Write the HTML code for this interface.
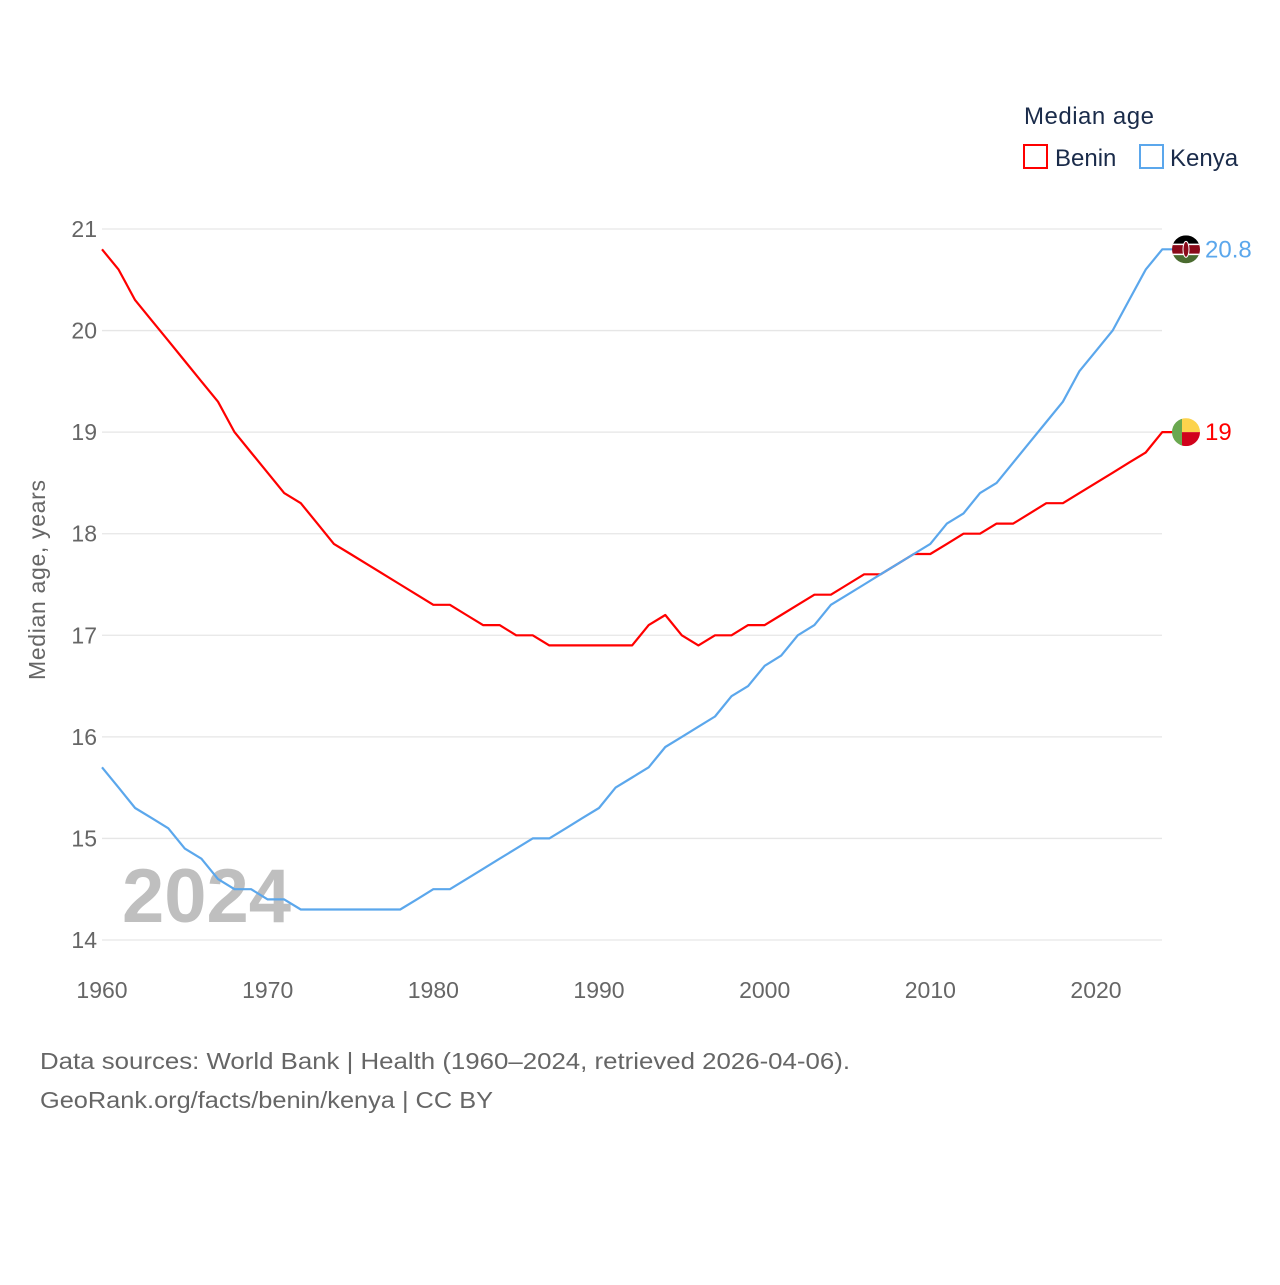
<!DOCTYPE html>
<html><head><meta charset="utf-8"><style>
body{margin:0;background:#fff;font-family:"Liberation Sans",sans-serif}
svg text{font-family:"Liberation Sans",sans-serif}
</style></head><body>
<svg id="c" width="1280" height="1280" viewBox="0 0 1280 1280">
<g id="grid"></g>
<g id="yt"></g>
<g id="xt"></g>
<text x="45" y="580" font-size="23" fill="#666" transform="rotate(-90 45 580)" text-anchor="middle" textLength="200">Median age, years</text>
<text x="122" y="922" font-size="76" font-weight="bold" fill="#bfbfbf">2024</text>
<g id="lines"></g>
<g>
<text x="1024" y="124" font-size="24" fill="#1a2b4a" textLength="130">Median age</text>
<g><rect x="1024" y="145" width="23" height="23" fill="none" stroke="#f00" stroke-width="2"/><text x="1055" y="166" font-size="24" fill="#1a2b4a">Benin</text></g>
<g><rect x="1140" y="145" width="23" height="23" fill="none" stroke="#5ba7ec" stroke-width="2"/><text x="1170" y="166" font-size="24" fill="#1a2b4a">Kenya</text></g>
</g>
<g>
<text x="40" y="1069" font-size="23" fill="#666" textLength="810" lengthAdjust="spacingAndGlyphs">Data sources: World Bank | Health (1960–2024, retrieved 2026-04-06).</text>
<text x="40" y="1108" font-size="23" fill="#666" textLength="453" lengthAdjust="spacingAndGlyphs">GeoRank.org/facts/benin/kenya | CC BY</text>
</g>
</svg>
<script>
const years=[];for(let y=1960;y<=2024;y++)years.push(y);
const benin=[20.8,20.6,20.3,20.1,19.9,19.7,19.5,19.3,19.0,18.8,18.6,18.4,18.3,18.1,17.9,17.8,17.7,17.6,17.5,17.4,17.3,17.3,17.2,17.1,17.1,17.0,17.0,16.9,16.9,16.9,16.9,16.9,16.9,17.1,17.2,17.0,16.9,17.0,17.0,17.1,17.1,17.2,17.3,17.4,17.4,17.5,17.6,17.6,17.7,17.8,17.8,17.9,18.0,18.0,18.1,18.1,18.2,18.3,18.3,18.4,18.5,18.6,18.7,18.8,19.0];
const kenya=[15.7,15.5,15.3,15.2,15.1,14.9,14.8,14.6,14.5,14.5,14.4,14.4,14.3,14.3,14.3,14.3,14.3,14.3,14.3,14.4,14.5,14.5,14.6,14.7,14.8,14.9,15.0,15.0,15.1,15.2,15.3,15.5,15.6,15.7,15.9,16.0,16.1,16.2,16.4,16.5,16.7,16.8,17.0,17.1,17.3,17.4,17.5,17.6,17.7,17.8,17.9,18.1,18.2,18.4,18.5,18.7,18.9,19.1,19.3,19.6,19.8,20.0,20.3,20.6,20.8];
const yTicks=[14,15,16,17,18,19,20,21];
const xTicks=[1960,1970,1980,1990,2000,2010,2020];
const X=y=>102+(y-1960)*(994/60);
const Y=v=>940-(v-14)*(711/7);
const NS='http://www.w3.org/2000/svg';
function mk(t,a,p){const e=document.createElementNS(NS,t);for(const k in a)e.setAttribute(k,a[k]);p.appendChild(e);return e;}
const grid=document.getElementById('grid'),yt=document.getElementById('yt'),xt=document.getElementById('xt'),lines=document.getElementById('lines');
yTicks.forEach(v=>{
 const l=mk('line',{x1:102,x2:1162,y1:Y(v),y2:Y(v),stroke:'#e6e6e6','stroke-width':1.3},grid);
 
 
 const t=mk('text',{x:97,y:Y(v)+8,'font-size':23,fill:'#666','text-anchor':'end'},yt);t.textContent=v;
 
 
});
xTicks.forEach(v=>{
 const t=mk('text',{x:X(v),y:998,'font-size':23,fill:'#666','text-anchor':'middle'},xt);t.textContent=v;
 
 
});
function series(data,color,name){
 const pts=data.map((v,i)=>X(years[i]).toFixed(1)+','+Y(v).toFixed(1));
 const last=data[data.length-1];
 pts.push('1174,'+Y(last).toFixed(1));
 const p=mk('polyline',{points:pts.join(' '),fill:'none',stroke:color,'stroke-width':2.2,'stroke-linejoin':'round'},lines);
 
 
 const t=mk('text',{x:1205,y:Y(last)+8,'font-size':24,fill:color},lines);t.textContent=last;
 
 
 return Y(last);
}
const yb=series(benin,'#f00','benin');
const yk=series(kenya,'#5ba7ec','kenya');
let g=mk('g',{},lines);


mk('clipPath',{id:'cb'},g).appendChild(document.createElementNS(NS,'circle'));
const cb=document.querySelector('#cb circle');cb.setAttribute('cx',1186);cb.setAttribute('cy',yb);cb.setAttribute('r',14);
mk('rect',{x:1172,y:yb-14,width:10,height:28,fill:'#6aa84f','clip-path':'url(#cb)'},g);
mk('rect',{x:1182,y:yb-14,width:18,height:14,fill:'#fcd34d','clip-path':'url(#cb)'},g);
mk('rect',{x:1182,y:yb,width:18,height:14,fill:'#d0021b','clip-path':'url(#cb)'},g);
g=mk('g',{},lines);


mk('clipPath',{id:'ck'},g).appendChild(document.createElementNS(NS,'circle'));
const ck=document.querySelector('#ck circle');ck.setAttribute('cx',1186);ck.setAttribute('cy',yk);ck.setAttribute('r',14);
mk('rect',{x:1172,y:yk-14,width:28,height:9,fill:'#000','clip-path':'url(#ck)'},g);
mk('rect',{x:1172,y:yk-5,width:28,height:10,fill:'#8b0a1a','clip-path':'url(#ck)'},g);
mk('rect',{x:1172,y:yk+5,width:28,height:9,fill:'#4a6b2f','clip-path':'url(#ck)'},g);
mk('line',{x1:1172,x2:1200,y1:yk-5,y2:yk-5,stroke:'#fff','stroke-width':1.5,'clip-path':'url(#ck)'},g);
mk('line',{x1:1172,x2:1200,y1:yk+5,y2:yk+5,stroke:'#fff','stroke-width':1.5,'clip-path':'url(#ck)'},g);
mk('ellipse',{cx:1186,cy:yk,rx:3,ry:8,fill:'#8b0a1a',stroke:'#fff','stroke-width':1},g);
</script>
</body></html>
